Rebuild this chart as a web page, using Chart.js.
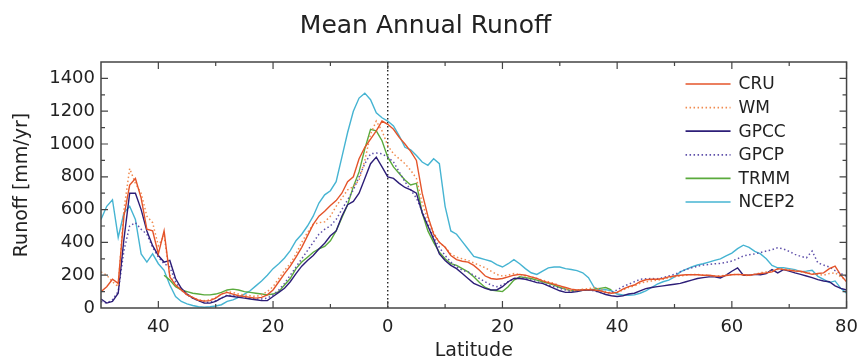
<!DOCTYPE html>
<html>
<head>
<meta charset="utf-8">
<script src="https://cdn.jsdelivr.net/npm/chart.js@4.4.1/dist/chart.umd.min.js"></script>
<style>
  html, body { margin: 0; padding: 0; background: #fff; }
  canvas { display: block; }
</style>
</head>
<body>
<canvas id="runoff-chart" width="867" height="364"></canvas>
<script>
// latitude, -50 (south) .. 80 (north), 1 degree steps
const latitude = [
  -50, -49, -48, -47, -46, -45, -44, -43, -42, -41,
  -40, -39, -38, -37, -36, -35, -34, -33, -32, -31,
  -30, -29, -28, -27, -26, -25, -24, -23, -22, -21,
  -20, -19, -18, -17, -16, -15, -14, -13, -12, -11,
  -10, -9, -8, -7, -6, -5, -4, -3, -2, -1,
  0, 1, 2, 3, 4, 5, 6, 7, 8, 9,
  10, 11, 12, 13, 14, 15, 16, 17, 18, 19,
  20, 21, 22, 23, 24, 25, 26, 27, 28, 29,
  30, 31, 32, 33, 34, 35, 36, 37, 38, 39,
  40, 41, 42, 43, 44, 45, 46, 47, 48, 49,
  50, 51, 52, 53, 54, 55, 56, 57, 58, 59,
  60, 61, 62, 63, 64, 65, 66, 67, 68, 69,
  70, 71, 72, 73, 74, 75, 76, 77, 78, 79,
  80
]

// runoff [mm/yr]
const cru = [
  100, 130, 175, 150, 560, 750, 790, 670, 480, 470,
  330, 470, 190, 140, 110, 80, 65, 47, 42, 45,
  60, 85, 95, 85, 75, 70, 65, 60, 65, 80,
  110, 160, 210, 255, 310, 370, 440, 510, 560, 590,
  625, 655, 700, 770, 800, 910, 980, 1030, 1080, 1140,
  1120, 1090, 1040, 1000, 955, 900, 700, 560, 450, 400,
  370, 320, 295, 285, 280, 260, 230, 195, 180, 175,
  180, 190, 200, 205, 200, 190, 180, 165, 155, 145,
  135, 125, 115, 110, 110, 112, 110, 105, 95, 90,
  95, 115, 130, 140, 160, 172, 175, 175, 180, 190,
  195, 200, 203, 203, 203, 200, 200, 195, 193, 198,
  203, 205, 203, 200, 205, 210, 214, 220, 240, 234,
  230, 226, 224, 215, 205, 210, 214, 240, 255, 200,
  160
]
const wm = [
  220, 200, 160, 130, 600, 850, 760, 700, 560, 520,
  380, 440, 200, 140, 110, 85, 65, 50, 45, 50,
  65, 85, 100, 95, 85, 80, 75, 70, 80, 100,
  130, 180, 230, 270, 330, 400, 460, 510, 520, 525,
  560, 620, 670, 720, 740, 780, 900, 1060, 1140, 1080,
  990, 940, 910, 880, 840, 790, 640, 540, 460, 400,
  370, 330, 310, 300, 290, 275, 260, 245, 225, 205,
  195, 200, 210, 205, 195, 190, 180, 170, 160, 150,
  135, 115, 105, 110, 115, 118, 125, 115, 100, 92,
  95, 110, 125, 135, 150, 160, 165, 170, 175, 185,
  190, 195, 200, 205, 205, 200, 198, 195, 195, 200,
  205, 205, 200, 198, 205, 215, 220, 225, 235, 240,
  232, 228, 222, 215, 210, 205, 200, 210, 215, 190,
  170
]
const gpcc = [
  55, 30, 40, 90, 420, 700, 700, 600, 470, 380,
  320, 280, 290, 180, 120, 85, 60, 45, 30, 30,
  40, 60, 75, 70, 65, 60, 55, 50, 45, 45,
  70, 95, 120, 160, 210, 255, 290, 320, 360, 395,
  440, 470, 560, 630, 650, 700, 790, 880, 920, 860,
  800, 790, 760, 735, 720, 700, 580, 500, 420, 330,
  290, 260, 240, 210, 180, 150, 135, 120, 110, 110,
  130, 160, 180, 180, 175, 165, 155, 150, 135, 120,
  105, 95, 95, 100, 108, 111, 108, 95, 82, 75,
  70, 75, 85, 90, 105, 118, 125, 130, 135, 140,
  145, 150, 160, 170, 180, 185, 190, 190, 183, 200,
  224, 245, 200, 200, 205, 203, 210, 234, 214, 234,
  225, 214, 205, 195, 185, 173, 165, 160, 135, 120,
  110
]
const gpcp = [
  40, 30, 50, 100, 350, 500, 520, 480, 450, 370,
  310, 270, 250, 160, 110, 80, 60, 45, 35, 35,
  45, 60, 80, 75, 70, 65, 60, 55, 55, 60,
  80, 110, 150, 200, 250, 300, 350, 400, 450, 480,
  500, 540, 600, 660, 720, 800, 880, 940, 945, 940,
  920, 890, 830, 770, 720, 670, 590, 510, 430, 370,
  320, 280, 250, 230, 220, 200, 180, 160, 140, 130,
  140, 160, 180, 185, 180, 170, 160, 150, 140, 130,
  120, 110, 100, 105, 110, 110, 105, 95, 90, 95,
  110, 130, 145, 160, 175, 178, 180, 178, 185, 195,
  205, 220, 235, 245, 255, 262, 265, 270, 272, 278,
  286, 300, 317, 325, 330, 338, 347, 355, 368, 360,
  345, 327, 315, 306, 347, 275, 262, 250, 228, 210,
  193
]
const trmm = [
  null, null, null, null, null, null, null, null, null, null,
  null, 200, 170, 130, 110, 100, 90, 85, 80, 80,
  85, 95, 110, 115, 110, 100, 95, 90, 85, 80,
  85, 100, 140, 180, 240, 280, 310, 340, 360, 375,
  410, 470, 550, 630, 740, 830, 970, 1090, 1080, 1020,
  920, 860, 820, 780, 750, 760, 580, 470, 400, 340,
  300, 270, 260, 240, 220, 190, 155, 125, 110, 105,
  100, 130, 170, 190, 185, 180, 170, 160, 150, 140,
  125, 115, 105, 105, 108, 111, 115, 120, 125, 110,
  null, null, null, null, null, null, null, null, null, null,
  null, null, null, null, null, null, null, null, null, null,
  null, null, null, null, null, null, null, null, null, null,
  null, null, null, null, null, null, null, null, null, null,
  null
]
const ncep2 = [
  540, 620, 660, 430, 580, 620, 540, 330, 280, 330,
  270, 230, 140, 70, 40, 25, 15, 8, 5, 8,
  12, 20, 40, 50, 65, 85, 105, 135, 165, 200,
  240, 270, 305, 350, 410, 450, 500, 560, 640, 690,
  715, 770, 920, 1070, 1200, 1280, 1310, 1270, 1190, 1160,
  1140, 1110, 1050, 980, 965, 930, 890, 870, 910, 880,
  620, 470, 450, 405, 360, 315, 305, 295, 285, 265,
  250, 270, 295, 270, 240, 215, 205, 225, 245, 250,
  250, 240, 235, 228, 215, 185, 125, 110, 112, 105,
  85, 80, 78, 80, 90, 105, 125, 145, 160, 170,
  190, 220, 235, 250, 262, 270, 280, 290, 300, 318,
  335, 362, 383, 370, 345, 330, 300, 260, 245, 245,
  240, 234, 222, 225, 230, 193, 175, 155, 165, 120,
  90
]

const FONT = "'DejaVu Sans', sans-serif"
const INK = '#222'

Chart.defaults.font.family = FONT
Chart.defaults.color = INK

// dotted line at the equator, box round the plot, inward ticks
const frame = {
  id: 'frame',
  beforeDatasetsDraw(chart) {
    const {ctx, chartArea: a, scales: {x}} = chart
    const x0 = x.getPixelForValue(0)
    ctx.save()
    ctx.strokeStyle = '#111'
    ctx.lineWidth = 1.3
    ctx.setLineDash([1.5, 2.5])
    ctx.beginPath()
    ctx.moveTo(x0, a.top)
    ctx.lineTo(x0, a.bottom)
    ctx.stroke()
    ctx.restore()
  },
  afterDatasetsDraw(chart) {
    const {ctx, chartArea: a, scales: {x, y}} = chart
    ctx.save()
    ctx.strokeStyle = '#444'
    ctx.lineWidth = 1.5
    ctx.strokeRect(a.left, a.top, a.right - a.left, a.bottom - a.top)
    ctx.lineWidth = 1.2
    ctx.beginPath()
    for (let v = -40; v <= 80; v += 10) {
      const px = x.getPixelForValue(v)
      const len = v % 20 === 0 ? 7 : 4
      ctx.moveTo(px, a.bottom); ctx.lineTo(px, a.bottom - len)
      ctx.moveTo(px, a.top); ctx.lineTo(px, a.top + len)
    }
    for (let v = 100; v <= 1400; v += 100) {
      const py = y.getPixelForValue(v)
      const len = v % 200 === 0 ? 7 : 4
      ctx.moveTo(a.left, py); ctx.lineTo(a.left + len, py)
      ctx.moveTo(a.right, py); ctx.lineTo(a.right - len, py)
    }
    ctx.stroke()
    ctx.restore()
  }
}

// legend inside the plot, top right
const legendBox = {
  id: 'legendBox',
  afterDraw(chart) {
    const {ctx, chartArea: a} = chart
    ctx.save()
    ctx.font = '17px ' + FONT
    ctx.textBaseline = 'middle'
    chart.data.datasets.forEach((ds, i) => {
      const yy = a.top + 22 + i * 23.6
      const x1 = a.right - 161
      ctx.strokeStyle = ds.borderColor
      ctx.lineWidth = ds.borderWidth + 0.3
      ctx.setLineDash(ds.borderDash || [])
      ctx.beginPath()
      ctx.moveTo(x1, yy)
      ctx.lineTo(x1 + 45, yy)
      ctx.stroke()
      ctx.setLineDash([])
      ctx.fillStyle = INK
      ctx.fillText(ds.label, x1 + 53, yy + 1)
    })
    ctx.restore()
  }
}

const ctx = document.getElementById('runoff-chart').getContext('2d')

new Chart(ctx, {
  type: 'line',
  data: {
    labels: latitude,
    datasets: [
      {label: 'CRU', data: cru, borderColor: 'rgb(228, 84, 42)', borderWidth: 1.4},
      {label: 'WM', data: wm, borderColor: 'rgb(240, 140, 80)', borderWidth: 1.5, borderDash: [1.5, 2.5]},
      {label: 'GPCC', data: gpcc, borderColor: 'rgb(45, 30, 120)', borderWidth: 1.4},
      {label: 'GPCP', data: gpcp, borderColor: 'rgb(95, 80, 170)', borderWidth: 1.5, borderDash: [1.5, 2.5]},
      {label: 'TRMM', data: trmm, borderColor: 'rgb(90, 170, 60)', borderWidth: 1.4},
      {label: 'NCEP2', data: ncep2, borderColor: 'rgb(70, 180, 210)', borderWidth: 1.4}
    ]
  },
  options: {
    responsive: false,
    animation: false,
    devicePixelRatio: 1,
    layout: {padding: {left: 0, right: 16, top: 0, bottom: 0}},
    elements: {
      point: {radius: 0},
      line: {tension: 0}
    },
    spanGaps: false,
    plugins: {
      legend: {display: false},
      tooltip: {enabled: false},
      title: {
        display: true,
        text: 'Mean Annual Runoff',
        color: INK,
        font: {size: 25, weight: 'normal'},
        padding: {top: 11, bottom: 21}
      }
    },
    scales: {
      x: {
        type: 'linear',
        min: -50,
        max: 80,
        grid: {display: false, drawTicks: false},
        border: {display: false},
        ticks: {
          stepSize: 20,
          includeBounds: false,
          maxRotation: 0,
          padding: 9,
          font: {size: 18},
          color: INK,
          callback: v => String(Math.abs(v))
        },
        title: {
          display: true,
          text: 'Latitude',
          font: {size: 19},
          color: INK,
          padding: {top: 0, bottom: 2}
        },
        afterFit: s => { s.height = 56 }
      },
      y: {
        min: 0,
        max: 1500,
        grid: {display: false, drawTicks: false},
        border: {display: false},
        ticks: {
          stepSize: 200,
          includeBounds: false,
          padding: 6,
          font: {size: 18},
          color: INK,
          callback: v => String(v)
        },
        title: {
          display: true,
          text: 'Runoff [mm/yr]',
          font: {size: 19},
          color: INK,
          padding: {top: 11, bottom: 0}
        },
        afterFit: s => { s.width = 101 }
      }
    }
  },
  plugins: [frame, legendBox]
})
</script>
</body>
</html>
